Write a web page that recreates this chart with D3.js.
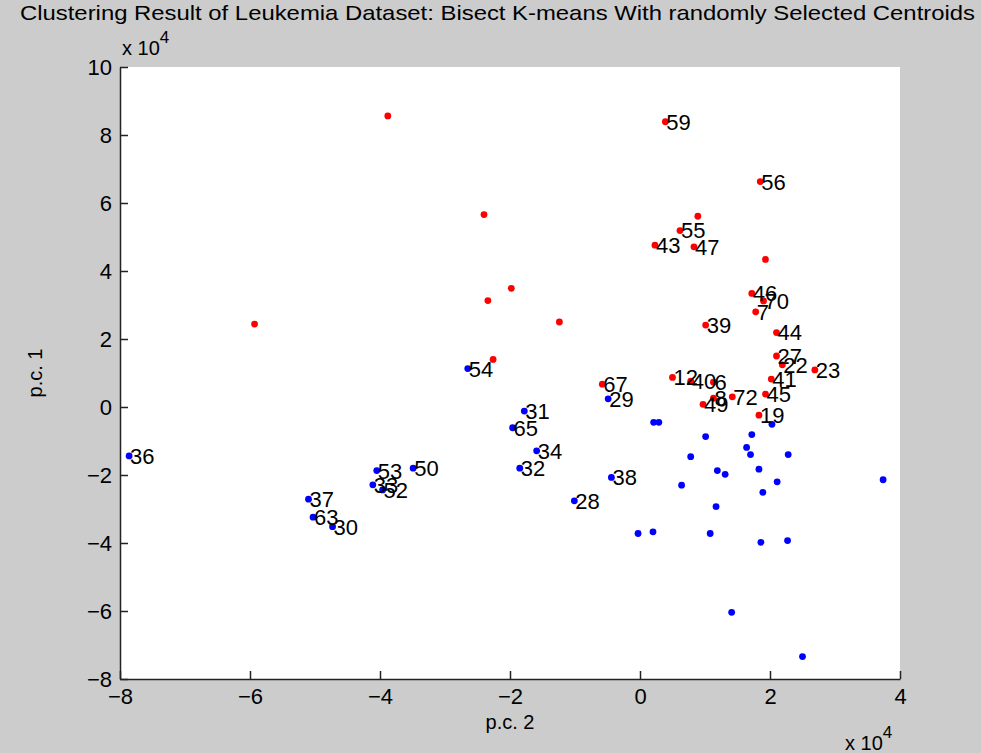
<!DOCTYPE html>
<html>
<head>
<meta charset="utf-8">
<script src="https://cdn.jsdelivr.net/npm/d3@7"></script>
<style>
  html, body { margin: 0; padding: 0; background: #cccccc; }
  svg { display: block; }
  text { font-family: "Liberation Sans", Arial, sans-serif; fill: #000; }
</style>
</head>
<body>
<svg id="chart" width="981" height="753"></svg>
<script>
// ---- data (units of 1e4) ----
const redLabels = ["59","56","","55","43","47","","46","70","7","39","44","27","22","23","12","40","6","41","8","72","45","49","19","67","","","","","","",""];
const redX = [0.39,1.85,0.89,0.615,0.23,0.83,1.93,1.72,1.90,1.78,1.01,2.10,2.10,2.19,2.69,0.50,0.78,1.13,2.02,1.13,1.42,1.93,0.97,1.83,-0.58,-3.88,-2.40,-1.98,-2.34,-5.93,-1.24,-2.26];
const redY = [8.39,6.63,5.61,5.19,4.76,4.71,4.34,3.34,3.12,2.80,2.41,2.19,1.50,1.24,1.09,0.87,0.76,0.73,0.82,0.26,0.30,0.38,0.08,-0.24,0.67,8.56,5.66,3.49,3.13,2.44,2.50,1.40];

const blueLabels = ["54","29","31","65","34","32","38","28","36","53","50","33","52","37","63","30",
  "","","","","","","","","","","","","","","","","","","","","","","",""];
const blueX = [-2.65,-0.49,-1.78,-1.96,-1.59,-1.85,-0.44,-1.01,-7.86,-4.05,-3.49,-4.11,-3.96,-5.10,-5.03,-4.73,
  0.21,0.29,1.01,1.72,2.03,0.78,1.64,1.70,2.28,1.19,1.31,1.83,0.64,2.11,1.89,3.74,1.17,-0.03,0.20,1.08,1.86,2.27,1.41,2.50];
const blueY = [1.13,0.24,-0.12,-0.61,-1.29,-1.80,-2.07,-2.76,-1.44,-1.87,-1.80,-2.29,-2.44,-2.71,-3.24,-3.52,
  -0.45,-0.45,-0.87,-0.81,-0.51,-1.46,-1.19,-1.40,-1.40,-1.87,-1.98,-1.83,-2.30,-2.20,-2.51,-2.14,-2.93,-3.72,-3.67,-3.72,-3.98,-3.93,-6.04,-7.34];

const xTicks = [-8,-6,-4,-2,0,2,4];
const yTicks = [-8,-6,-4,-2,0,2,4,6,8,10];
const titleText = "Clustering Result of Leukemia Dataset: Bisect K-means With randomly Selected Centroids";
const xLabelText = "p.c. 2";
const yLabelText = "p.c. 1";

// ---- layout ----
const svg = d3.select("#chart");
const L = 120, R = 900, T = 67, B = 679;
const x = d3.scaleLinear().domain([-8, 4]).range([L, R]);
const y = d3.scaleLinear().domain([-8, 10]).range([B, T]);

svg.append("rect").attr("width", 981).attr("height", 753).attr("fill", "#cccccc");
svg.append("rect").attr("x", L).attr("y", T).attr("width", R - L).attr("height", B - T).attr("fill", "#ffffff");

// axes
const xAxis = d3.axisBottom(x).tickValues(xTicks).tickSizeInner(-8).tickSizeOuter(0).tickPadding(14).tickFormat(d3.format("d"));
const yAxis = d3.axisLeft(y).tickValues(yTicks).tickSizeInner(-8).tickSizeOuter(0).tickPadding(14).tickFormat(d3.format("d"));

const gx = svg.append("g").attr("transform", `translate(0,${B})`).call(xAxis);
const gy = svg.append("g").attr("transform", `translate(${L},0)`).call(yAxis);
[gx, gy].forEach(g => {
  g.select(".domain").attr("stroke", "#222").attr("stroke-width", 1.5);
  g.selectAll(".tick line").attr("stroke", "#222").attr("stroke-width", 1.5);
  g.selectAll(".tick text").attr("font-size", 22).attr("font-family", "Liberation Sans, Arial, sans-serif").attr("fill", "#000");
});
gx.selectAll(".tick text").attr("dy", "0.71em").attr("y", 9);
gy.selectAll(".tick text").attr("x", -8);

// exponent labels
const expTop = svg.append("text").attr("x", 122).attr("y", 55).attr("font-size", 20);
expTop.append("tspan").text("x 10");
expTop.append("tspan").attr("dy", -12).attr("font-size", 17).text("4");
const expBot = svg.append("text").attr("x", 845).attr("y", 750).attr("font-size", 20);
expBot.append("tspan").text("x 10");
expBot.append("tspan").attr("dy", -12).attr("font-size", 17).text("4");

// title & axis labels
svg.append("text").attr("x", 20).attr("y", 20).attr("font-size", 21)
  .attr("textLength", 955).attr("lengthAdjust", "spacingAndGlyphs").text(titleText);
svg.append("text").attr("x", (L + R) / 2).attr("y", 729).attr("text-anchor", "middle").attr("font-size", 20).text(xLabelText);
svg.append("text").attr("transform", `translate(42,${(T + B) / 2}) rotate(-90)`).attr("text-anchor", "middle").attr("font-size", 20).text(yLabelText);

// points
const plot = svg.append("g");
const red = redX.map((v, i) => ({x: v, y: redY[i], l: redLabels[i]}));
const blue = blueX.map((v, i) => ({x: v, y: blueY[i], l: blueLabels[i]}));

plot.selectAll("circle.b").data(blue).join("circle").attr("class", "b")
  .attr("cx", d => x(d.x)).attr("cy", d => y(d.y)).attr("r", 3.4).attr("fill", "#0000ff");
plot.selectAll("circle.r").data(red).join("circle").attr("class", "r")
  .attr("cx", d => x(d.x)).attr("cy", d => y(d.y)).attr("r", 3.4).attr("fill", "#ff0000");

const labels = red.concat(blue).filter(d => d.l !== "");
plot.selectAll("text.lbl").data(labels).join("text").attr("class", "lbl")
  .attr("x", d => x(d.x) + 1).attr("y", d => y(d.y)).attr("dy", "0.36em")
  .attr("font-size", 22).text(d => d.l);
</script>
</body>
</html>
